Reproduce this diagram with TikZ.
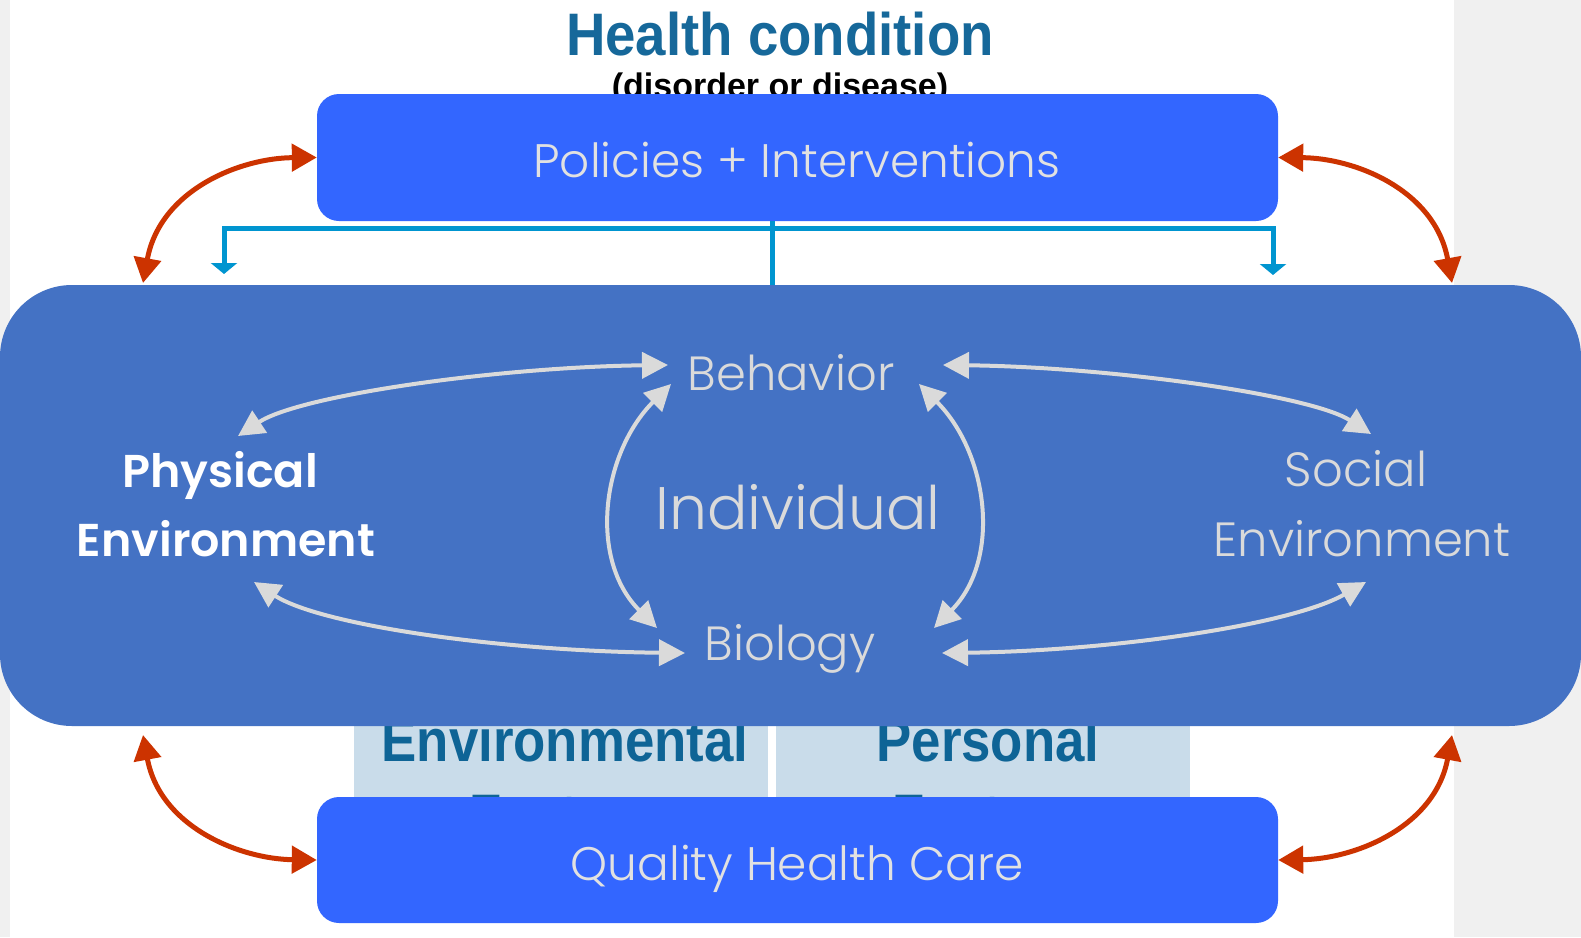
\documentclass[tikz,border=0pt]{standalone}
\usepackage{fontspec}
\usetikzlibrary{arrows.meta}
\newfontfamily\gothic{Poppins Light}
\newfontfamily\gothicb{Poppins SemiBold}
\newfontfamily\arialf{Liberation Sans}
\newcommand\fsz[1]{\fontsize{#1}{#1}\selectfont}
\definecolor{mainblue}{HTML}{4472C4}
\definecolor{boxblue}{HTML}{3366FF}
\definecolor{redarrow}{HTML}{CC3300}
\definecolor{lineblue}{HTML}{0095D0}
\definecolor{lightpanel}{HTML}{C9DCEA}
\definecolor{tealtext}{HTML}{0E6496}
\definecolor{headteal}{HTML}{16689A}
\definecolor{softgray}{HTML}{DADADA}
\definecolor{pagegray}{HTML}{F0F0F0}
\tikzset{
  mainbox/.style={fill=mainblue, rounded corners=72pt, inner sep=0pt},
  bluebox/.style={fill=boxblue, rounded corners=22pt, inner sep=0pt},
  panel/.style={fill=lightpanel, inner sep=0pt, anchor=north west},
  lighttext/.style={text=softgray, font=\gothic\fsz{48}, anchor=base, inner sep=0pt},
  boxtext/.style={text=softgray!80!white, font=\gothic\fsz{47}, anchor=base, inner sep=0pt},
  panelword/.style={text=tealtext, font=\arialf\bfseries\fsz{60}, anchor=base, inner sep=0pt},
  redarr/.style={draw=redarrow, line width=5pt, {Triangle[length=25pt,width=27pt]}-{Triangle[length=25pt,width=27pt]}},
  grayarr/.style={draw=softgray, line width=4pt, {Triangle[length=26pt,width=26pt]}-{Triangle[length=26pt,width=26pt]}},
  blueln/.style={draw=lineblue, line width=5pt},
  bluearr/.style={blueln, -{Triangle[length=11pt,width=26pt]}},
}
\begin{document}
\begin{tikzpicture}[x=1pt,y=-1pt]
\useasboundingbox (0,0) rectangle (1581,937);
\fill[pagegray] (0,0) rectangle (1581,937);
\fill[white] (10,0) rectangle (1454,937);

% heading
\node[anchor=base, inner sep=0pt, text=headteal, font=\arialf\bfseries\fsz{60}] (hc) at (780,55) {\scalebox{0.91}[1]{Health condition}};
\node[anchor=base, inner sep=0pt, text=black, font=\arialf\bfseries\fsz{34}] (dd) at (780,97) {(disorder or disease)};

% panels behind
\node[panel, minimum width=414pt, minimum height=110pt] (envp) at (354,700) {};
\node[panel, minimum width=414pt, minimum height=110pt] (perp) at (776,700) {};
\node[panelword] (envt) at (565,761) {\scalebox{0.88}[1]{Environmental}};
\node[panelword] (pert) at (988,761) {\scalebox{0.88}[1]{Personal}};
\node[panelword] (envf) at (565,836) {\scalebox{0.88}[1]{Factors}};
\node[panelword] (perf) at (988,836) {\scalebox{0.88}[1]{Factors}};

% main and boxes
\node[mainbox, minimum width=1581pt, minimum height=441pt] (main) at (790.5,505.5) {};
\node[bluebox, minimum width=961pt, minimum height=127pt] (pol) at (797.5,157.5) {};
\node[bluebox, minimum width=961pt, minimum height=126pt] (qhc) at (797.5,860) {};
\node[boxtext] (polt) at (797,177) {Policies + Interventions};
\node[boxtext] (qhct) at (797,880) {Quality Health Care};

% blue connector
\coordinate (bt) at (772,228);
\coordinate (bl) at (224,274);
\coordinate (br) at (1273,275);
\draw[blueln] (pol.south -| bt) -- (main.north -| bt);
\draw[bluearr] (bt) -| (bl);
\draw[bluearr] (bt) -| (br);

% red arrows
\coordinate (tl) at (143,283);
\coordinate (tr) at (1452,283);
\coordinate (bl2) at (143,735);
\coordinate (br2) at (1452,735);
\draw[redarr] (pol.west) .. controls (240,158) and (160,190) .. (tl);
\draw[redarr] (pol.east) .. controls (1355,158) and (1435,190) .. (tr);
\draw[redarr] (qhc.west) .. controls (240,859) and (160,827) .. (bl2);
\draw[redarr] (qhc.east) .. controls (1355,859) and (1435,827) .. (br2);

% inner texts
\node[lighttext] (beh) at (791,390) {Behavior};
\node[lighttext] (bio) at (790,660) {Biology};
\node[lighttext, font=\gothic\fsz{60}] (ind) at (798,529) {Individual};
\node[lighttext, text=white, font=\gothicb\fsz{46}] (phy1) at (220,487) {Physical};
\node[lighttext, text=white, font=\gothicb\fsz{46}] (phy2) at (226,556) {Environment};
\node[lighttext] (soc1) at (1356,486) {Social};
\node[lighttext] (soc2) at (1362,556) {Environment};

% gray arrow endpoints
\coordinate (pU) at (238,436);
\coordinate (pD) at (254,582);
\coordinate (sU) at (1371,434);
\coordinate (sD) at (1366,582);
\coordinate (bhL) at (668,365);
\coordinate (bhR) at (943,365);
\coordinate (bhL2) at (671,384);
\coordinate (bhR2) at (919,384);
\coordinate (bgL) at (685,653);
\coordinate (bgR) at (942,653);
\coordinate (bgL2) at (657,628);
\coordinate (bgR2) at (934,628);

\draw[grayarr] (pU) .. controls (300,395) and (500,367) .. (bhL);
\draw[grayarr] (sU) .. controls (1311,395) and (1111,367) .. (bhR);
\draw[grayarr] (pD) .. controls (320,625) and (500,651) .. (bgL);
\draw[grayarr] (sD) .. controls (1291,625) and (1111,651) .. (bgR);
\draw[grayarr] (bhL2) .. controls (602,453) and (588,559) .. (bgL2);
\draw[grayarr] (bhR2) .. controls (988,453) and (1002,559) .. (bgR2);
\end{tikzpicture}
\end{document}
